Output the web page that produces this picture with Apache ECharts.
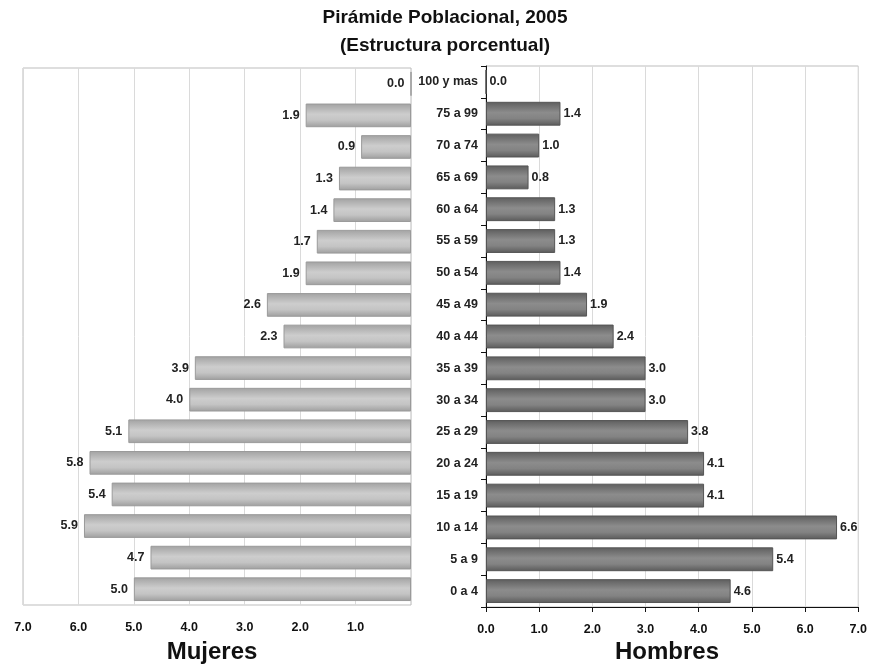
<!DOCTYPE html>
<html>
<head>
<meta charset="utf-8">
<script src="https://cdn.jsdelivr.net/npm/echarts@6/dist/echarts.min.js"></script>
<style>
html,body{margin:0;padding:0;background:#fff;}
#c{width:870px;height:666px;}
</style>
</head>
<body>
<div id="c"></div>
<script>
const categories = ['0 a 4','5 a 9','10 a 14','15 a 19','20 a 24','25 a 29','30 a 34','35 a 39','40 a 44','45 a 49','50 a 54','55 a 59','60 a 64','65 a 69','70 a 74','75 a 99','100 y mas'];
const mujeres = [5.0,4.7,5.9,5.4,5.8,5.1,4.0,3.9,2.3,2.6,1.9,1.7,1.4,1.3,0.9,1.9,0.0];
const hombres = [4.6,5.4,6.6,4.1,4.1,3.8,3.0,3.0,2.4,1.9,1.4,1.3,1.3,0.8,1.0,1.4,0.0];
const titleLine1 = 'Pirámide Poblacional, 2005';
const titleLine2 = '(Estructura porcentual)';
const leftName = 'Mujeres';
const rightName = 'Hombres';

const FONT = '"Liberation Sans", Arial, sans-serif';
const chart = echarts.init(document.getElementById('c'), null, {renderer:'canvas'});

const gradLeft = new echarts.graphic.LinearGradient(0,0,0,1,[
  {offset:0,color:'#a2a2a2'},{offset:0.45,color:'#cdcdcd'},{offset:0.7,color:'#c4c4c4'},{offset:1,color:'#9e9e9e'}
]);
const gradRight = new echarts.graphic.LinearGradient(0,0,0,1,[
  {offset:0,color:'#5e5e5e'},{offset:0.45,color:'#8c8c8c'},{offset:0.7,color:'#838383'},{offset:1,color:'#5a5a5a'}
]);

chart.setOption({
  animation:false,
  backgroundColor:'#fff',
  graphic:[
    {type:'text',x:445,y:18,style:{text:titleLine1,font:'bold 19px '+FONT,fill:'#111',align:'center',verticalAlign:'middle'}},
    {type:'text',x:445,y:46,style:{text:titleLine2,font:'bold 19px '+FONT,fill:'#111',align:'center',verticalAlign:'middle'}},
    {type:'text',x:212,y:652,style:{text:leftName,font:'bold 24px '+FONT,fill:'#111',align:'center',verticalAlign:'middle'}},
    {type:'text',x:667,y:652,style:{text:rightName,font:'bold 24px '+FONT,fill:'#111',align:'center',verticalAlign:'middle'}}
  ],
  grid:[
    {left:23,right:459,top:68,bottom:61,show:true,borderColor:'#bdbdbd',borderWidth:1,containLabel:false},
    {left:486,right:11,top:66,bottom:59,show:true,borderColor:'#bdbdbd',borderWidth:1,containLabel:false}
  ],
  xAxis:[
    {gridIndex:0,type:'value',inverse:true,min:0,max:7,interval:1,
     axisLine:{show:false},axisTick:{show:false},
     splitLine:{show:true,lineStyle:{color:'#dadada',width:1}},
     axisLabel:{margin:16,fontFamily:FONT,fontSize:12.5,fontWeight:'bold',color:'#111',
       formatter:v=> v===0 ? '' : v.toFixed(1)}},
    {gridIndex:1,type:'value',min:0,max:7,interval:1,
     axisLine:{show:true,onZero:false,lineStyle:{color:'#111',width:1}},
     axisTick:{show:true,length:5,inside:false,lineStyle:{color:'#111'}},
     splitLine:{show:true,lineStyle:{color:'#dadada',width:1}},
     axisLabel:{margin:16,fontFamily:FONT,fontSize:12.5,fontWeight:'bold',color:'#111',
       formatter:v=>v.toFixed(1)}}
  ],
  yAxis:[
    {gridIndex:0,type:'category',data:categories,
     axisLine:{show:false},axisTick:{show:false},axisLabel:{show:false},splitLine:{show:false}},
    {gridIndex:1,type:'category',data:categories,
     axisLine:{show:true,onZero:false,lineStyle:{color:'#111',width:1}},
     axisTick:{show:true,length:5,inside:false,lineStyle:{color:'#111'}},
     axisLabel:{margin:8,fontFamily:FONT,fontSize:12.5,fontWeight:'bold',color:'#222'},
     splitLine:{show:false}}
  ],
  series:[
    {type:'bar',name:leftName,xAxisIndex:0,yAxisIndex:0,data:mujeres,barWidth:'75%',
     itemStyle:{color:gradLeft,borderColor:'#9a9a9a',borderWidth:1},
     label:{show:true,position:'left',distance:6,formatter:p=>p.value.toFixed(1),
       fontFamily:FONT,fontSize:12.5,fontWeight:'bold',color:'#222'}},
    {type:'bar',name:rightName,xAxisIndex:1,yAxisIndex:1,data:hombres,barWidth:'75%',
     itemStyle:{color:gradRight,borderColor:'#555',borderWidth:1},
     label:{show:true,position:'right',distance:3,formatter:p=>p.value.toFixed(1),
       fontFamily:FONT,fontSize:12.5,fontWeight:'bold',color:'#222'}}
  ]
});
</script>
</body>
</html>
